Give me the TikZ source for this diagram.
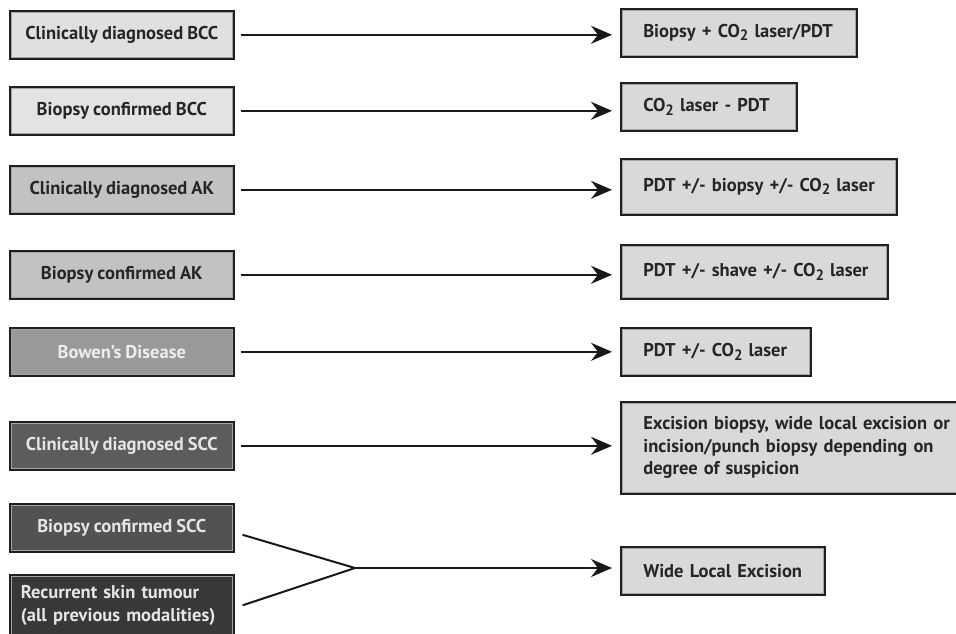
\documentclass[tikz,border=0pt]{standalone}
\usepackage{fontspec}
\setmainfont{PT Sans}[WordSpace=0.85]
\usetikzlibrary{arrows.meta}
\newcommand\lowtwo{\raisebox{-0.35ex}{\fontsize{15}{15}\selectfont 2}}
\begin{document}
\begin{tikzpicture}[x=1pt,y=-1pt,
  box/.style={draw=black!88, line width=2.6pt, minimum height=47pt, inner sep=0pt,
    font=\fontsize{18.5}{22.5}\selectfont\bfseries, anchor=north west},
  lbox/.style={box, minimum width=223pt, align=center},
  rbox/.style={box, fill=black!15, inner xsep=22pt, align=left, text width=#1-44pt},
  conn/.style={line width=2pt, draw=black!90},
  arr/.style={conn, -{Stealth[length=21pt,width=18pt,inset=7pt]}, shorten >=8pt},
  innerline/.style={draw=white, line width=0.8pt, opacity=0.6}]
\useasboundingbox (0,0) rectangle (956,633);
% left boxes
\node[lbox, fill=black!12, text=black!85] (L1) at (9,10) {Clinically diagnosed BCC};
\node[lbox, fill=black!11, text=black!85] (L2) at (9,86) {Biopsy confirmed BCC};
\node[lbox, fill=black!24, text=black!85] (L3) at (9,165) {Clinically diagnosed AK};
\node[lbox, fill=black!24, text=black!85] (L4) at (9,250) {Biopsy confirmed AK};
\node[lbox, fill=black!40, text=black!7] (L5) at (9,327) {Bowen's Disease};
\node[lbox, fill=black!64, text=black!10] (L6) at (9,421) {Clinically diagnosed SCC};
\node[lbox, fill=black!68, text=black!10] (L7) at (9,503) {Biopsy confirmed SCC};
\node[box, minimum width=223pt, minimum height=60pt, fill=black!78, text=black!10,
  align=left, text width=202pt, inner xsep=10.5pt] (L8) at (9,574)
  {Recurrent skin tumour\\(all previous modalities)};
% right boxes
\node[rbox=235pt, text=black!85] (R1) at (620,8) {\mbox{Biopsy + CO\lowtwo{} laser/PDT}};
\node[rbox=175pt, text=black!85] (R2) at (620,82) {\mbox{CO\lowtwo{} laser - PDT}};
\node[rbox=275pt, minimum height=55pt, text=black!85] (R3) at (620,158) {\mbox{PDT +/- biopsy +/- CO\lowtwo{} laser}};
\node[rbox=266pt, minimum height=53pt, text=black!85] (R4) at (620,244) {\mbox{PDT +/- shave +/- CO\lowtwo{} laser}};
\node[rbox=189pt, text=black!85] (R5) at (620,327) {\mbox{PDT +/- CO\lowtwo{} laser}};
\node[rbox=370pt, minimum height=91pt, text=black!85] (R6) at (620,401)
  {Excision biopsy, wide local excision or\\incision/punch biopsy depending on\\degree of suspicion};
\node[rbox=203pt, text=black!85] (R7) at (620,546) {\mbox{Wide Local Excision}};
% inner light lines
\foreach \n in {L1,L2,L3,L4,L5,L6,L7,L8,R1,R2,R3,R4,R5,R6,R7}
  \draw[innerline] ([shift={(2.6pt,-2.6pt)}]\n.north west) rectangle ([shift={(-2.6pt,2.6pt)}]\n.south east);
% connectors
\foreach \k in {1,...,6}
  \draw[arr, shorten <=6pt] (L\k.east) -- (L\k.east -| R\k.west);
\coordinate (M) at (355,568);
\draw[conn] ([shift={(8pt,-7pt)}]L7.east) -- (M);
\draw[conn] ([shift={(8pt,0pt)}]L8.east) -- (M);
\draw[arr] (M) -- (M -| R7.west);
\end{tikzpicture}
\end{document}
